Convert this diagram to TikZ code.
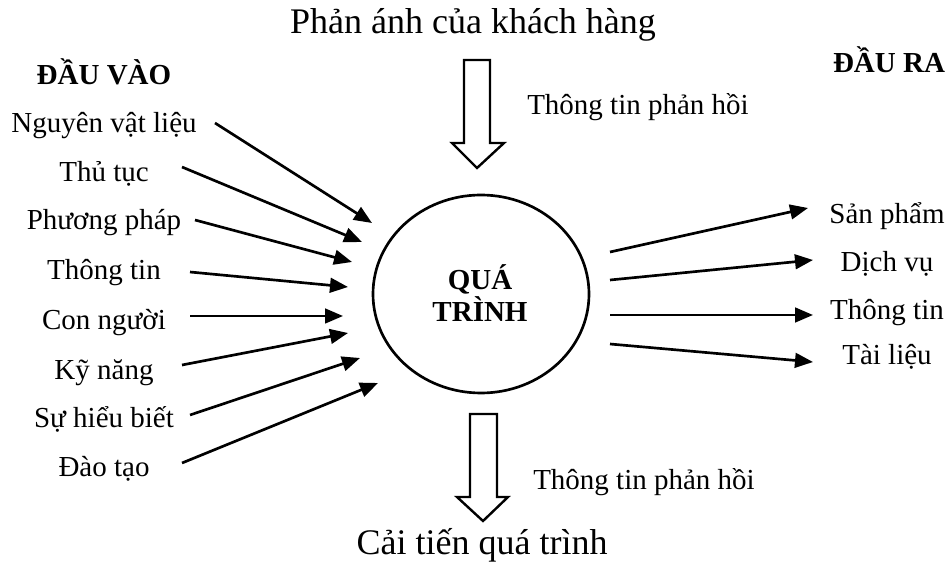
\documentclass[tikz,border=0pt]{standalone}
\usepackage{fontspec}
\setmainfont{Liberation Serif}
\usetikzlibrary{arrows.meta,shapes.geometric}
\begin{document}
\begin{tikzpicture}[x=0.75pt,y=-0.75pt,
 lbl/.style={anchor=base, inner sep=0pt, font=\fontsize{21.75}{26}\selectfont},
 hdr/.style={anchor=base, inner sep=0pt, font=\fontsize{21.75}{26}\selectfont\bfseries},
 ttl/.style={anchor=base, inner sep=0pt, font=\fontsize{27}{32}\selectfont},
 arr/.style={line width=2pt, -{Triangle[length=13.5pt,width=11pt]}},
 blk/.style={draw, line width=1.8pt, fill=white, line join=miter},
 proc/.style={draw, ellipse, line width=2pt, minimum width=162pt, minimum height=148.5pt, inner sep=0pt}]
\useasboundingbox (0,0) rectangle (950,580);

% process
\node[proc] (proc) at (481,294) {};
\node[hdr] (q1) at (480,290) {QUÁ};
\node[hdr] (q2) at (480,322) {TRÌNH};

% titles
\node[ttl] (top) at (473,34) {Phản ánh của khách hàng};
\node[ttl] (bot) at (482,555) {Cải tiến quá trình};
\node[lbl, anchor=base west] (fb1) at (527,115) {Thông tin phản hồi};
\node[lbl, anchor=base west] (fb2) at (533,490) {Thông tin phản hồi};
\node[hdr] (hin) at (104,85) {ĐẦU VÀO};
\node[hdr] (hout) at (889,73) {ĐẦU RA};

% block arrows
\draw[blk] (464,60) -- (490,60) -- (490,143) -- (504,143) -- (477,168) -- (452,143) -- (464,143) -- cycle;
\draw[blk] (470,414) -- (497,414) -- (497,497) -- (508,497) -- (483,521) -- (457,497) -- (470,497) -- cycle;

% inputs
\node[lbl] (i1) at (104,133) {Nguyên vật liệu};
\node[lbl] (i2) at (104,182) {Thủ tục};
\node[lbl] (i3) at (104,230) {Phương pháp};
\node[lbl] (i4) at (104,280) {Thông tin};
\node[lbl] (i5) at (104,330) {Con người};
\node[lbl] (i6) at (104,380) {Kỹ năng};
\node[lbl] (i7) at (104,428) {Sự hiểu biết};
\node[lbl] (i8) at (104,477) {Đào tạo};

\coordinate (s1) at (215,123); \coordinate (t1) at (372,223);
\coordinate (s2) at (182,167); \coordinate (t2) at (362,242);
\coordinate (s3) at (195,220); \coordinate (t3) at (352,262);
\coordinate (s4) at (190,272); \coordinate (t4) at (348,287);
\coordinate (s5) at (190,316); \coordinate (t5) at (343,316);
\coordinate (s6) at (182,365); \coordinate (t6) at (348,333);
\coordinate (s7) at (190,415); \coordinate (t7) at (360,358);
\coordinate (s8) at (182,463); \coordinate (t8) at (378,383);
\foreach \k in {1,...,8} {\draw[arr] (s\k) -- (t\k);}

% outputs
\node[lbl] (o1) at (887,224) {Sản phẩm};
\node[lbl] (o2) at (887,272) {Dịch vụ};
\node[lbl] (o3) at (887,320) {Thông tin};
\node[lbl] (o4) at (887,365) {Tài liệu};

\coordinate (u1) at (610,252); \coordinate (v1) at (808,208);
\coordinate (u2) at (610,280); \coordinate (v2) at (813,260);
\coordinate (u3) at (610,315); \coordinate (v3) at (813,315);
\coordinate (u4) at (610,344); \coordinate (v4) at (813,362);
\foreach \k in {1,...,4} {\draw[arr] (u\k) -- (v\k);}
\end{tikzpicture}
\end{document}
